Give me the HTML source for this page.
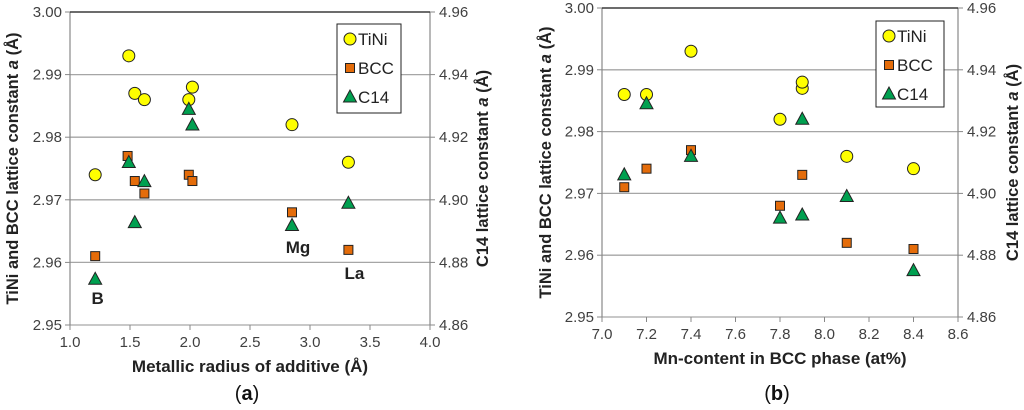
<!DOCTYPE html>
<html><head><meta charset="utf-8"><style>
body{margin:0;background:#fff;width:1024px;height:410px;overflow:hidden}
svg{display:block}
text{font-family:"Liberation Sans",sans-serif}
</style></head><body>
<svg id="c" width="1024" height="410"></svg>
<script>
const aX=[1.21,1.49,1.54,1.62,1.99,2.02,2.85,3.32];
const aTiNi=[2.974,2.993,2.987,2.986,2.986,2.988,2.982,2.976];
const aBCCx=[1.21,1.48,1.54,1.62,1.99,2.02,2.85,3.32];
const aBCC=[2.961,2.977,2.973,2.971,2.974,2.973,2.968,2.962];
const aC14=[4.8746,4.9119,4.8927,4.9058,4.9289,4.9239,4.8918,4.8989];
const bTiNiX=[7.1,7.2,7.4,7.8,7.9,7.9,8.1,8.4];
const bTiNi=[2.986,2.986,2.993,2.982,2.987,2.988,2.976,2.974];
const bBCCx=[7.1,7.2,7.4,7.8,7.9,8.1,8.4];
const bBCC=[2.971,2.974,2.977,2.968,2.973,2.962,2.961];
const bC14x=[7.1,7.2,7.4,7.8,7.9,7.9,8.1,8.4];
const bC14=[4.906,4.929,4.912,4.892,4.924,4.893,4.899,4.875];
const yTicksL=["2.95","2.96","2.97","2.98","2.99","3.00"];
const yTicksR=["4.86","4.88","4.90","4.92","4.94","4.96"];
const aXTicks=["1.0","1.5","2.0","2.5","3.0","3.5","4.0"];
const bXTicks=["7.0","7.2","7.4","7.6","7.8","8.0","8.2","8.4","8.6"];
const NS="http://www.w3.org/2000/svg";
const svg=document.getElementById('c');
function el(t,a,p){const e=document.createElementNS(NS,t);for(const k in a)e.setAttribute(k,a[k]);(p||svg).appendChild(e);return e;}
function chart(o){
 const g=el('g',{});
 
 
 const sx=v=>o.x0+(v-o.xmin)/(o.xmax-o.xmin)*(o.x1-o.x0);
 const sy=v=>o.y1-(v-2.95)/0.05*(o.y1-o.y0);
 const sy2=v=>o.y1-(v-4.86)/0.1*(o.y1-o.y0);
 yTicksL.forEach((t,i)=>{const y=sy(+t);
  const l=el('line',{x1:o.x0,x2:o.x1,y1:y,y2:y,stroke:'#a6a6a6','stroke-width':1.3},g);
  
  el('line',{x1:o.x0-5,x2:o.x0,y1:y,y2:y,stroke:'#888'},g);
  el('line',{x1:o.x1,x2:o.x1+5,y1:y,y2:y,stroke:'#888'},g);
  const tl=el('text',{x:o.x0-8,y:y+5,'text-anchor':'end','font-size':15,fill:'#404040'},g);tl.textContent=t;
  
  const tr=el('text',{x:o.x1+9,y:y+5,'font-size':15,fill:'#404040'},g);tr.textContent=yTicksR[i];
  
 });
 el('line',{x1:o.x0,x2:o.x0,y1:o.y0,y2:o.y1,stroke:'#888','stroke-width':1.2},g);
 el('line',{x1:o.x1,x2:o.x1,y1:o.y0,y2:o.y1,stroke:'#888','stroke-width':1.2},g);
 el('line',{x1:o.x0,x2:o.x1,y1:o.y0,y2:o.y0,stroke:'#222','stroke-width':1.3},g);
 o.xt.forEach(t=>{const x=sx(+t);
  el('line',{x1:x,x2:x,y1:o.y1,y2:o.y1+5,stroke:'#888'},g);
  const tx=el('text',{x:x,y:o.y1+22,'text-anchor':'middle','font-size':15,fill:'#404040'},g);tx.textContent=t;
  
 });
 const xt=el('text',{x:(o.x0+o.x1)/2,y:o.y1+47,'text-anchor':'middle','font-size':17,'font-weight':'bold',fill:'#222'},g);xt.textContent=o.xlabel;
 
 const ym=(o.y0+o.y1)/2;
 const yl=el('text',{transform:`translate(${o.ylx},${ym}) rotate(-90)`,'text-anchor':'middle','font-size':16.5,'font-weight':'bold',fill:'#222'},g);
 yl.innerHTML='TiNi and BCC lattice constant <tspan font-style="italic">a</tspan> (Å)';
 
 const yr=el('text',{transform:`translate(${o.yrx},${ym}) rotate(-90)`,'text-anchor':'middle','font-size':16.5,'font-weight':'bold',fill:'#222'},g);
 yr.innerHTML='C14 lattice constant <tspan font-style="italic">a</tspan> (Å)';
 
 const circ=(x,y,p)=>{const c=el('circle',{cx:x,cy:y,r:6,fill:'#ffff00',stroke:'#222','stroke-width':1},p);};
 const sq=(x,y,p)=>{const c=el('rect',{x:x-4.5,y:y-4.5,width:9,height:9,fill:'#e46c0a',stroke:'#222','stroke-width':1},p);};
 const tri=(x,y,p)=>{const c=el('polygon',{points:`${x},${y-7} ${x-6.5},${y+5} ${x+6.5},${y+5}`,fill:'#00a050',stroke:'#222','stroke-width':1},p);};
 o.tx.forEach((v,i)=>circ(sx(v),sy(o.ty[i]),g));
 o.bx.forEach((v,i)=>sq(sx(v),sy(o.by[i]),g));
 o.cx.forEach((v,i)=>tri(sx(v),sy2(o.cy[i]),g));
 const L=o.leg;
 const lg=el('g',{},g);
 el('rect',{x:L[0],y:L[1],width:L[2],height:L[3],fill:'#fff',stroke:'#222','stroke-width':1},lg);
 const names=['TiNi','BCC','C14'];const fns=[circ,sq,tri];
 names.forEach((n,i)=>{const yy=L[1]+15+i*29;fns[i](L[0]+13,yy,lg);
  const t=el('text',{x:L[0]+21,y:yy+6,'font-size':17,fill:'#222'},lg);t.textContent=n;
  });
 (o.ann||[]).forEach(a=>{const t=el('text',{x:sx(a[1]),y:a[2],'text-anchor':'middle','font-size':17,'font-weight':'bold',fill:'#222'},g);t.textContent=a[0];
  });
 const cap=el('text',{x:(o.x0+o.x1)/2-3,y:400,'text-anchor':'middle','font-size':20,fill:'#111','font-family':'Liberation Serif, serif'},g);
 cap.innerHTML='(<tspan font-weight="bold">'+o.cap+'</tspan>)';
 
}
chart({name:'chart-a',x0:70,x1:430,y0:12,y1:325,xmin:1,xmax:4,xt:aXTicks,xlabel:'Metallic radius of additive (Å)',ylx:18,yrx:488,
 tx:aX,ty:aTiNi,bx:aBCCx,by:aBCC,cx:aX,cy:aC14,leg:[337,24,64,89],cap:'a',
 ann:[['B',1.23,304],['Mg',2.9,253],['La',3.37,279]]});
chart({name:'chart-b',x0:602,x1:958,y0:8,y1:317,xmin:7,xmax:8.6,xt:bXTicks,xlabel:'Mn-content in BCC phase (at%)',ylx:551,yrx:1018,
 tx:bTiNiX,ty:bTiNi,bx:bBCCx,by:bBCC,cx:bC14x,cy:bC14,leg:[876,21,68,86],cap:'b'});
</script>
</body></html>
